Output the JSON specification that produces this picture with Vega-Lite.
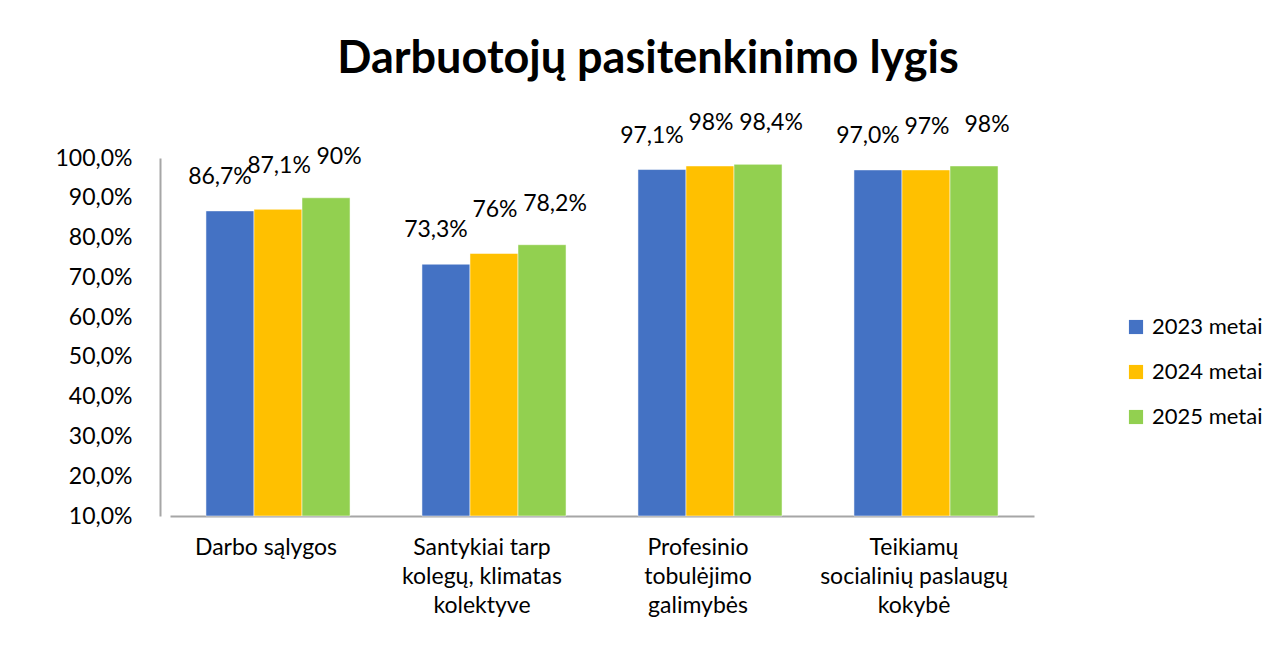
{
  "$schema": "https://vega.github.io/schema/vega-lite/v6.json",
  "autosize": "none",
  "width": 864,
  "height": 358,
  "padding": {"left": 170, "top": 158, "right": 249, "bottom": 132},
  "background": "white",
  "config": {
    "font": "Lato",
    "view": {"stroke": null},
    "locale": {"number": {"decimal": ",", "thousands": " ", "grouping": [3], "currency": ["", " €"]}}
  },
  "title": {
    "text": "Darbuotojų pasitenkinimo lygis",
    "fontSize": 45,
    "fontWeight": "bold",
    "font": "Lato",
    "color": "black",
    "anchor": "middle",
    "dx": 46,
    "offset": 30
  },
  "data": {
    "values": [
      {"category": "Darbo sąlygos", "year": "2023 metai", "value": 0.867, "label": "86,7%"},
      {"category": "Darbo sąlygos", "year": "2024 metai", "value": 0.871, "label": "87,1%"},
      {"category": "Darbo sąlygos", "year": "2025 metai", "value": 0.90, "label": "90%"},
      {"category": "Santykiai tarp|kolegų, klimatas|kolektyve", "year": "2023 metai", "value": 0.733, "label": "73,3%"},
      {"category": "Santykiai tarp|kolegų, klimatas|kolektyve", "year": "2024 metai", "value": 0.76, "label": "76%"},
      {"category": "Santykiai tarp|kolegų, klimatas|kolektyve", "year": "2025 metai", "value": 0.782, "label": "78,2%"},
      {"category": "Profesinio|tobulėjimo|galimybės", "year": "2023 metai", "value": 0.971, "label": "97,1%"},
      {"category": "Profesinio|tobulėjimo|galimybės", "year": "2024 metai", "value": 0.98, "label": "98%"},
      {"category": "Profesinio|tobulėjimo|galimybės", "year": "2025 metai", "value": 0.984, "label": "98,4%"},
      {"category": "Teikiamų|socialinių paslaugų|kokybė", "year": "2023 metai", "value": 0.97, "label": "97,0%"},
      {"category": "Teikiamų|socialinių paslaugų|kokybė", "year": "2024 metai", "value": 0.97, "label": "97%"},
      {"category": "Teikiamų|socialinių paslaugų|kokybė", "year": "2025 metai", "value": 0.98, "label": "98%"}
    ]
  },
  "encoding": {
    "x": {
      "field": "category",
      "type": "nominal",
      "sort": null,
      "scale": {"paddingInner": 0.333, "paddingOuter": 0.1665},
      "axis": {
        "title": null,
        "labelAngle": 0,
        "labelExpr": "split(datum.label, '|')",
        "labelFontSize": 23,
        "labelColor": "black",
        "labelLineHeight": 29,
        "labelPadding": 20,
        "labelOffset": -12,
        "ticks": false,
        "domainColor": "#A6A6A6",
        "domainWidth": 2,
        "labelLimit": 300
      }
    },
    "xOffset": {"field": "year", "type": "nominal", "sort": ["2023 metai", "2024 metai", "2025 metai"]},
    "y": {
      "field": "value",
      "type": "quantitative",
      "scale": {"domain": [0.1, 1.0], "clamp": true, "nice": false, "zero": false},
      "axis": {
        "title": null,
        "format": ".1%",
        "values": [0.1, 0.2, 0.3, 0.4, 0.5, 0.6, 0.7, 0.8, 0.9, 1.0],
        "grid": false,
        "ticks": false,
        "labelFontSize": 23,
        "labelColor": "black",
        "labelPadding": 28,
        "domainColor": "#A6A6A6",
        "domainWidth": 2,
        "offset": 10
      }
    }
  },
  "layer": [
    {
      "mark": {"type": "bar", "stroke": "white", "strokeWidth": 0.5},
      "encoding": {
        "color": {
          "field": "year",
          "type": "nominal",
          "scale": {"domain": ["2023 metai", "2024 metai", "2025 metai"], "range": ["#4472C4", "#FFC000", "#92D050"]},
          "legend": {
            "title": null,
            "orient": "none",
            "legendX": 955,
            "legendY": 158,
            "symbolType": "square",
            "symbolSize": 200,
            "symbolStrokeWidth": 0,
            "labelFontSize": 22,
            "labelColor": "black",
            "rowPadding": 23,
            "labelOffset": 5
          }
        }
      }
    },
    {
      "transform": [{"filter": "datum.year === '2023 metai'"}],
      "mark": {"type": "text", "baseline": "alphabetic", "dy": -27, "dx": -10, "fontSize": 23, "color": "black"},
      "encoding": {"text": {"field": "label", "type": "nominal"}}
    },
    {
      "transform": [{"filter": "datum.year === '2024 metai'"}],
      "mark": {"type": "text", "baseline": "alphabetic", "dy": -36, "dx": 1, "fontSize": 23, "color": "black"},
      "encoding": {"text": {"field": "label", "type": "nominal"}}
    },
    {
      "transform": [{"filter": "datum.year === '2025 metai'"}],
      "mark": {"type": "text", "baseline": "alphabetic", "dy": -34, "dx": 13, "fontSize": 23, "color": "black"},
      "encoding": {"text": {"field": "label", "type": "nominal"}}
    }
  ]
}
